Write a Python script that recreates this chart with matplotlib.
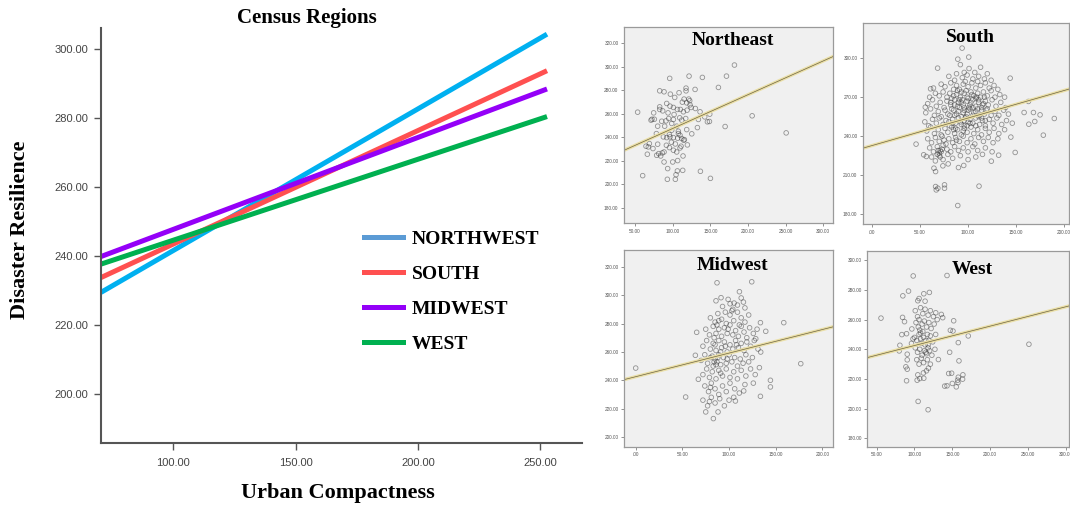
import matplotlib
matplotlib.use("Agg")
import matplotlib.pyplot as plt
from matplotlib.lines import Line2D

# ---- left panel: fitted lines per census region ----
line_x = [70.4, 252.7]
northwest = [229.5, 304.4]
south = [233.8, 293.8]
midwest = [239.9, 288.5]
west = [237.7, 280.5]
region_names = ["NORTHWEST", "SOUTH", "MIDWEST", "WEST"]
line_colors = ["#00B0F0", "#FF5050", "#9400F8", "#00B050"]
legend_colors = ["#5B9BD5", "#FF5050", "#9400F8", "#00B050"]
left_xticks = [100, 150, 200, 250]
left_yticks = [200, 220, 240, 260, 280, 300]

# ---- right panels: scatter points ----
ne_pts = [(53.5, 261.3), (60.2, 207.4), (96.1, 290.0), (121.8, 291.9), (139.5, 290.8), (171.5, 291.9),
          (182.1, 301.3), (160.8, 282.3), (129.8, 280.6), (117.8, 281.7), (117.8, 279.4), (82.8, 279.4),
          (88.6, 278.6), (97.0, 276.6), (102.8, 273.8), (108.5, 277.8), (115.2, 272.4), (121.4, 272.4),
          (122.7, 271.0), (82.8, 265.8), (82.8, 263.6), (74.8, 260.7), (72.6, 255.3), (75.7, 255.3),
          (71.3, 254.5), (85.5, 253.6), (91.2, 253.9), (94.8, 255.9), (93.9, 260.7), (101.9, 259.3),
          (106.3, 263.6), (110.3, 263.6), (114.3, 261.6), (119.2, 263.0), (124.5, 265.3), (130.2, 264.4),
          (136.4, 261.6), (149.3, 259.6), (205.6, 258.2), (148.9, 253.4), (132.9, 248.2), (169.7, 249.1),
          (250.8, 243.7), (125.4, 242.9), (118.7, 246.5), (105.4, 249.4), (98.8, 251.7), (89.4, 249.4),
          (80.1, 249.4), (78.4, 243.1), (95.7, 242.3), (101.0, 239.7), (106.7, 239.2), (114.7, 237.5),
          (115.6, 238.0), (119.6, 233.5), (111.2, 232.4), (103.6, 234.3), (98.3, 235.8), (95.7, 231.2),
          (88.6, 227.5), (91.7, 233.2), (80.1, 234.1), (73.9, 230.4), (67.7, 231.8), (64.6, 232.4),
          (69.1, 234.6), (66.4, 225.6), (78.8, 224.7), (81.5, 226.1), (86.3, 226.7), (84.1, 224.1),
          (88.6, 219.0), (100.1, 219.0), (106.7, 220.2), (113.8, 224.1), (113.4, 211.9), (106.3, 211.4),
          (104.5, 208.2), (93.4, 213.4), (93.0, 204.3), (103.6, 204.3), (136.9, 211.1), (150.2, 205.1),
          (98.8, 246.0), (107.6, 245.1), (112.1, 254.5), (109.4, 256.5), (117.4, 255.9), (101.0, 255.1),
          (96.5, 266.4), (101.0, 265.3), (92.1, 268.7), (86.8, 262.4), (112.9, 269.8), (118.7, 269.2),
          (123.1, 267.5), (134.2, 255.1), (142.6, 257.3), (146.2, 253.1), (107.6, 243.1), (109.8, 241.7),
          (112.1, 238.9), (87.7, 240.3), (92.1, 239.7), (105.4, 227.5), (109.8, 230.9), (101.0, 229.0),
          (96.5, 240.3)]

south_pts = [(45.9, 233.9), (89.3, 186.7), (93.8, 307.7), (100.7, 300.8), (89.3, 299.2), (68.3, 292.3),
             (143.8, 284.6), (162.8, 266.7), (158.3, 258.2), (168.0, 258.2), (174.9, 256.4), (189.7, 253.6),
             (163.2, 249.2), (169.4, 251.3), (178.3, 240.8), (149.0, 227.5), (144.5, 239.3), (131.8, 225.4),
             (124.2, 220.8), (111.4, 201.6), (66.2, 201.3), (75.5, 202.6), (66.9, 198.7), (75.5, 200.0),
             (68.6, 200.0), (90.0, 215.9), (95.5, 217.5), (79.3, 218.7), (73.8, 217.2), (66.2, 212.8),
             (64.5, 215.4), (55.5, 262.3), (61.0, 276.4), (56.6, 224.4), (53.8, 225.7),
             (92, 295), (101, 292), (107, 289), (113, 293), (96, 289),
             (80, 286), (86, 283), (94, 285), (99, 287), (105, 284), (111, 286), (117, 284), (124, 283),
             (88, 288), (120, 288),
             (64, 277), (72, 280), (76, 278), (82, 281), (88, 279), (91, 276), (95, 280), (100, 278),
             (104, 281), (108, 277), (113, 279), (118, 281), (122, 277), (127, 279), (131, 276), (85, 276),
             (97, 282), (110, 282),
             (60, 270), (66, 273), (70, 271), (74, 274), (78, 270), (81, 273), (85, 271), (89, 275),
             (92, 270), (96, 273), (100, 269), (103, 274), (106, 271), (110, 273), (113, 270), (116, 274),
             (120, 271), (124, 275), (128, 270), (133, 272), (138, 270), (83, 269), (98, 275), (108, 269),
             (58, 265), (63, 268), (67, 263), (71, 266), (75, 262), (78, 267), (82, 264), (86, 268),
             (89, 263), (93, 266), (96, 262), (99, 267), (102, 264), (105, 268), (108, 263), (111, 266),
             (114, 262), (118, 267), (121, 264), (125, 268), (129, 263), (134, 266), (139, 262), (91, 268),
             (101, 262), (116, 265),
             (56, 258), (61, 261), (65, 256), (69, 259), (72, 255), (76, 260), (79, 257), (83, 261),
             (86, 256), (90, 259), (93, 255), (96, 260), (99, 257), (102, 261), (105, 256), (108, 259),
             (111, 255), (114, 260), (117, 257), (120, 261), (124, 256), (128, 259), (132, 256), (137, 260),
             (142, 257), (88, 257), (98, 255), (110, 261), (95, 258),
             (55, 251), (59, 248), (63, 253), (67, 250), (70, 254), (74, 249), (77, 252), (81, 248),
             (84, 253), (87, 250), (90, 254), (93, 249), (96, 252), (99, 248), (102, 253), (105, 250),
             (108, 254), (112, 249), (115, 252), (118, 248), (122, 253), (126, 250), (130, 254), (135, 249),
             (140, 252), (146, 250), (92, 251), (100, 251), (80, 251),
             (57, 244), (61, 247), (65, 242), (69, 245), (72, 241), (76, 246), (79, 243), (83, 247),
             (86, 242), (89, 245), (93, 241), (96, 246), (99, 243), (103, 247), (106, 242), (110, 245),
             (114, 241), (118, 246), (122, 243), (127, 246), (132, 242), (138, 245), (85, 245), (95, 244),
             (58, 238), (62, 235), (66, 239), (70, 236), (73, 240), (77, 234), (80, 238), (84, 235),
             (87, 239), (91, 236), (95, 240), (99, 235), (103, 238), (107, 234), (111, 239), (116, 236),
             (121, 239), (126, 235), (131, 238), (75, 237), (88, 237),
             (60, 231), (64, 228), (68, 232), (71, 229), (74, 233), (78, 230), (82, 228), (86, 232),
             (90, 229), (95, 231), (100, 228), (105, 232), (110, 229), (118, 231), (125, 228), (70, 227),
             (73, 230),
             (62, 224), (66, 221), (70, 225), (74, 222), (79, 226), (84, 223), (92, 225), (100, 222),
             (108, 224), (115, 226),
             (82, 266), (85, 260), (88, 272), (91, 262), (94, 268), (97, 254), (100, 260), (103, 266),
             (106, 258), (109, 270), (112, 256), (115, 264), (118, 252), (84, 250), (87, 246), (90, 266),
             (93, 274), (96, 248), (99, 270), (102, 250), (105, 262), (108, 248), (111, 268), (114, 254),
             (117, 270), (81, 256), (119, 260), (86, 264), (104, 272), (95, 264),
             (68, 226), (71, 224), (69, 229), (72, 228)]

midwest_pts = [(0, 248.6), (53.5, 228.2), (87.1, 308.7), (124.3, 309.4), (111.1, 302.4), (91.4, 298.2),
               (158.6, 280.6), (139.3, 274.5), (176.8, 251.7), (133.6, 280.6), (65.3, 273.8), (63.9, 257.6),
               (67.1, 240.7), (133.6, 228.7), (144.3, 240.0), (144.3, 235.3), (132.5, 248.9), (83.2, 213.0),
               (75.0, 217.7), (88.2, 217.7), (106.8, 225.4), (115.7, 232.5), (133.9, 259.9), (128.6, 269.3),
               (115.4, 295.1), (101.1, 293.9), (105.4, 294.4),
               (86, 296), (93, 292), (99, 297), (104, 290), (109, 293), (113, 298), (96, 288), (117, 291),
               (80, 284), (85, 281), (88, 287), (92, 283), (97, 280), (101, 286), (105, 282), (109, 288),
               (113, 284), (117, 281), (121, 286), (89, 282), (103, 289),
               (75, 276), (79, 272), (83, 278), (86, 273), (89, 276), (92, 271), (95, 277), (98, 273),
               (101, 279), (104, 272), (107, 275), (110, 271), (113, 278), (116, 274), (119, 270), (122, 277),
               (126, 273), (130, 276), (84, 270), (99, 276), (111, 279), (87, 279),
               (72, 264), (76, 268), (80, 262), (83, 266), (86, 261), (89, 268), (92, 263), (95, 267),
               (98, 260), (101, 265), (104, 262), (107, 268), (110, 263), (113, 266), (116, 261), (119, 267),
               (123, 264), (127, 268), (131, 262), (85, 265), (96, 264), (108, 265), (91, 260),
               (70, 254), (74, 258), (77, 252), (80, 256), (83, 250), (85, 255), (87, 253), (89, 258),
               (91, 251), (94, 256), (97, 252), (100, 258), (103, 253), (106, 256), (109, 250), (112, 255),
               (115, 252), (118, 258), (121, 253), (125, 256), (84, 253), (86, 251), (88, 256), (82, 257),
               (98, 255),
               (72, 244), (76, 248), (79, 242), (82, 246), (86, 241), (89, 247), (93, 243), (97, 248),
               (101, 242), (105, 246), (109, 241), (113, 247), (118, 243), (123, 248), (128, 244), (91, 245),
               (74, 236), (78, 232), (81, 238), (85, 234), (89, 230), (93, 236), (97, 232), (101, 238),
               (106, 234), (111, 231), (117, 237), (126, 238), (80, 235),
               (72, 226), (77, 222), (81, 228), (85, 224), (90, 227), (95, 222), (100, 226), (105, 228),
               (79, 225)]

west_pts = [(55.7, 261.0), (98.3, 289.4), (143.0, 289.7), (84.6, 276.0), (92.1, 279.2), (104.4, 272.7),
            (106.1, 274.2), (112.3, 277.4), (119.7, 278.3), (114.0, 272.4), (84.2, 261.5), (86.8, 258.6),
            (83.3, 249.9), (89.5, 250.5), (96.5, 253.7), (80.7, 242.7), (79.8, 238.9), (90.4, 236.7),
            (90.4, 232.9), (88.6, 228.2), (90.4, 226.6), (89.5, 218.8), (103.5, 219.2), (107.0, 220.3),
            (112.3, 220.5), (104.8, 204.9), (118.0, 199.3), (104.4, 222.8), (111.8, 224.1), (115.8, 225.5),
            (118.4, 227.3), (150.9, 252.3), (151.8, 259.2), (147.4, 252.8), (157.9, 244.5), (146.5, 238.0),
            (158.8, 232.2), (171.1, 249.0), (251.3, 243.4), (145.2, 223.7), (149.1, 223.9), (164.0, 222.8),
            (157.9, 221.2), (157.0, 219.2), (163.6, 219.9), (157.5, 217.6), (150.0, 217.0), (155.3, 214.7),
            (143.0, 215.4), (139.9, 215.2), (131.6, 233.1), (135.5, 263.5), (137.3, 261.3), (128.1, 264.6),
            (101, 266), (104, 262), (108, 268), (111, 264), (114, 267), (118, 263), (121, 266), (125, 262),
            (102, 258), (105, 255), (107, 253), (108, 251), (110, 257), (113, 259), (116, 255), (119, 258),
            (122, 254), (126, 257), (130, 260), (100, 248), (103, 246), (106, 250), (109, 244), (112, 248),
            (115, 246), (118, 243), (121, 249), (124, 245), (128, 250), (101, 241), (104, 238), (107, 240),
            (110, 236), (113, 239), (115, 238), (116, 237), (118, 241), (120, 239), (123, 236), (127, 240),
            (103, 233), (106, 230), (109, 234), (112, 231), (117, 233), (121, 230), (98, 247), (96, 244),
            (106, 260), (111, 252), (117, 250), (119, 246), (114, 243), (108, 247)]

# fitted lines drawn inside each small panel (end points)
ne_fit = ([35.4, 313.0], [228.9, 308.5])
south_fit = ([-9.3, 205.0], [230.8, 276.2])
midwest_fit = ([-12.2, 211.0], [240.5, 277.6])
west_fit = ([37.6, 304.3], [234.4, 269.2])

serif = ["Liberation Serif", "DejaVu Serif"]
sans = ["Liberation Sans", "DejaVu Sans"]

fig = plt.figure(figsize=(10.7, 5.05), dpi=100)

# ---------------- left chart ----------------
ax = fig.add_axes([101 / 1070, 1 - 442.7 / 505, 481 / 1070, 414.4 / 505])
for vals, c in zip([northwest, south, midwest, west], line_colors):
    ax.plot(line_x, vals, color=c, lw=3.6, solid_capstyle="butt")
ax.set_xlim(70.4, 267)
ax.set_ylim(185.9, 306.1)
ax.set_xticks(left_xticks)
ax.set_yticks(left_yticks)
ax.set_xticklabels(["%.2f" % v for v in left_xticks], family=sans, fontsize=8, color="#444444")
ax.set_yticklabels(["%.2f" % v for v in left_yticks], family=sans, fontsize=8, color="#444444")
ax.tick_params(length=5, width=1, color="#555555", pad=4)
ax.tick_params(axis="x", pad=6)
for s in ["top", "right"]:
    ax.spines[s].set_visible(False)
for s in ["left", "bottom"]:
    ax.spines[s].set_color("#555555")
    ax.spines[s].set_linewidth(1.5)

handles = [Line2D([], [], color=c, lw=3.6) for c in legend_colors]
ax.legend(handles, region_names, loc="upper left", bbox_to_anchor=(0.547, 0.513),
          frameon=False, prop={"family": serif, "weight": "bold", "size": 14},
          handlelength=2.0, handletextpad=0.45, labelspacing=0.9, borderpad=0, borderaxespad=0)

fig.text(307 / 1070, 1 - 18 / 505, "Census Regions", ha="center", va="center",
         family=serif, weight="bold", fontsize=15)
fig.text(20 / 1070, 1 - 230 / 505, "Disaster Resilience", ha="center", va="center",
         rotation=90, family=serif, weight="bold", fontsize=16)
fig.text(338 / 1070, 1 - 493 / 505, "Urban Compactness", ha="center", va="center",
         family=serif, weight="bold", fontsize=16)


# ---------------- small scatter panels ----------------
def fmt(v):
    return ".00" if v == 0 else "%.2f" % v


panels = [
    ("Northeast", ne_pts, ne_fit, [624, 223, 833, 27], (35.4, 313), (167.2, 333.6),
     [50, 100, 150, 200, 250, 300], [180, 200, 220, 240, 260, 280, 300, 320], 0.93),
    ("South", south_pts, south_fit, [863, 224, 1069, 23], (-9.3, 205), (172.5, 327),
     [0, 50, 100, 150, 200], [180, 210, 240, 270, 300], 0.929),
    ("Midwest", midwest_pts, midwest_fit, [624.3, 446.7, 832.7, 250], (-12.2, 211), (193.2, 331.8),
     [0, 50, 100, 150, 200], [200, 220, 240, 260, 280, 300, 320], 0.919),
    ("West", west_pts, west_fit, [867.3, 446.7, 1069, 251], (37.6, 304.3), (174.4, 306.2),
     [50, 100, 150, 200, 250, 300], [180, 200, 220, 240, 260, 280, 300], 0.903),
]

for name, pts, fit, box, xl, yl, xt, yt, ty in panels:
    l, b, r, t = box
    a = fig.add_axes([l / 1070, 1 - b / 505, (r - l) / 1070, (b - t) / 505])
    a.set_facecolor("#F0F0F0")
    xs = [p[0] for p in pts]
    ys = [p[1] for p in pts]
    a.scatter(xs, ys, s=11, facecolors="none", edgecolors=(0.2, 0.2, 0.2, 0.5), linewidths=0.6)
    a.plot(fit[0], fit[1], color="#EADFA6", lw=2.4)
    a.plot(fit[0], fit[1], color="#6E6444", lw=0.5)
    a.set_xlim(*xl)
    a.set_ylim(*yl)
    a.set_xticks(xt)
    a.set_yticks(yt)
    a.set_xticklabels([fmt(v) for v in xt], family=sans, fontsize=3.4, color="#555555")
    a.set_yticklabels([fmt(v) for v in yt], family=sans, fontsize=3.4, color="#555555")
    a.tick_params(length=2, width=0.5, color="#666666", pad=2)
    for s in a.spines.values():
        s.set_color("#9A9A9A")
        s.set_linewidth(0.9)
    a.text(0.52, ty, name, transform=a.transAxes, ha="center", va="center",
           family=serif, weight="bold", fontsize=14)

fig.savefig("out.png", dpi=100)
